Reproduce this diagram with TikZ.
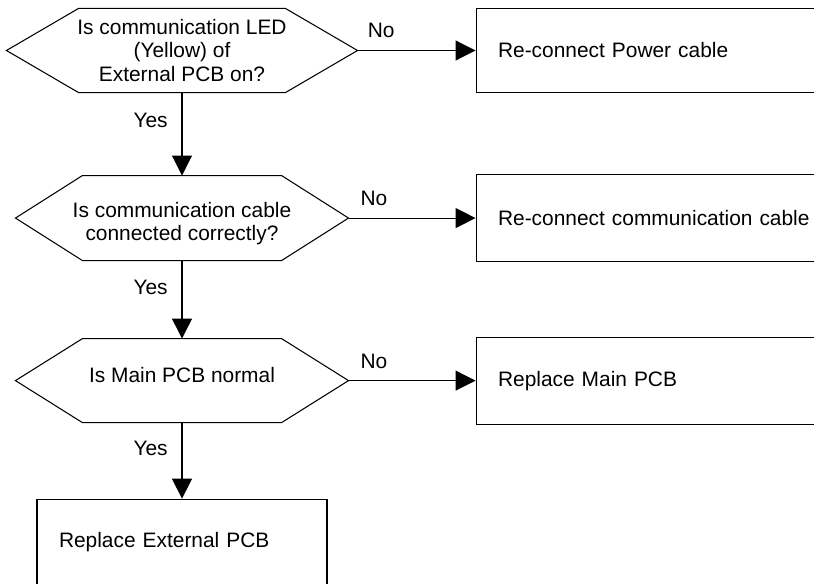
\documentclass[tikz,border=0pt]{standalone}
\usepackage{fontspec}
\setmainfont{Liberation Sans}
\usepackage{tikz}
\usetikzlibrary{arrows.meta, positioning}

\begin{document}
\begin{tikzpicture}[
		font=\fontsize{11.9}{13.3}\selectfont,
		line width=0.6pt,
		decision/.style={rectangle, inner sep=0pt, align=center},
		action/.style={rectangle, draw, align=left, inner xsep=0.44cm, inner ysep=0pt},
		flow/.style={-{Triangle[length=0.4cm, width=0.4cm]}},
		yes/.style={left=0.16cm, pos=0.34},
		no/.style={above=0.12cm, pos=0.2}
	]
	\useasboundingbox (0,0) rectangle (16.28,-11.66);
	
	% Checks
	\node[decision, minimum width=7cm, minimum height=1.66cm] (led) at (3.64,-1.01) {Is communication LED\\(Yellow) of\\External PCB on?};
	\node[decision, minimum width=6.64cm, minimum height=1.68cm, text height=1cm, below=1.66cm of led] (cable) {Is communication cable\\connected correctly?};
	\node[decision, minimum width=6.64cm, minimum height=1.66cm, text depth=0.24cm, below=1.56cm of cable] (mainpcb) {Is Main PCB normal};
	
	% Hexagon outlines
	\draw (led.west) -- ([xshift=1.44cm]led.north west) -- ([xshift=-1.44cm]led.north east) -- (led.east) -- ([xshift=-1.44cm]led.south east) -- ([xshift=1.44cm]led.south west) -- cycle;
	\draw (cable.west) -- ([xshift=1.34cm]cable.north west) -- ([xshift=-1.34cm]cable.north east) -- (cable.east) -- ([xshift=-1.34cm]cable.south east) -- ([xshift=1.34cm]cable.south west) -- cycle;
	\draw (mainpcb.west) -- ([xshift=1.34cm]mainpcb.north west) -- ([xshift=-1.34cm]mainpcb.north east) -- (mainpcb.east) -- ([xshift=-1.34cm]mainpcb.south east) -- ([xshift=1.34cm]mainpcb.south west) -- cycle;
	
	% Actions
	\node[action, text width=6.6cm, minimum height=1.68cm, right=2.36cm of led] (power) {Re-connect Power cable};
	\node[action, text width=6.6cm, minimum height=1.74cm, right=2.54cm of cable] (comm) {Re-connect communication cable};
	\node[action, text width=6.6cm, minimum height=1.74cm, right=2.54cm of mainpcb] (rmain) {Replace Main PCB};
	\node[action, text width=4.92cm, minimum height=1.72cm, below=1.52cm of mainpcb] (rext) {Replace External PCB};
	
	% Flow
	\draw[flow] (led.east) -- node[no] {No} (power.west);
	\draw[flow] (cable.east) -- node[no] {No} (comm.west);
	\draw[flow] (mainpcb.east) -- node[no] {No} (rmain.west);
	\draw[flow] (led.south) -- node[yes] {Yes} (cable.north);
	\draw[flow] (cable.south) -- node[yes] {Yes} (mainpcb.north);
	\draw[flow] (mainpcb.south) -- node[yes] {Yes} (rext.north);
\end{tikzpicture}
\end{document}
